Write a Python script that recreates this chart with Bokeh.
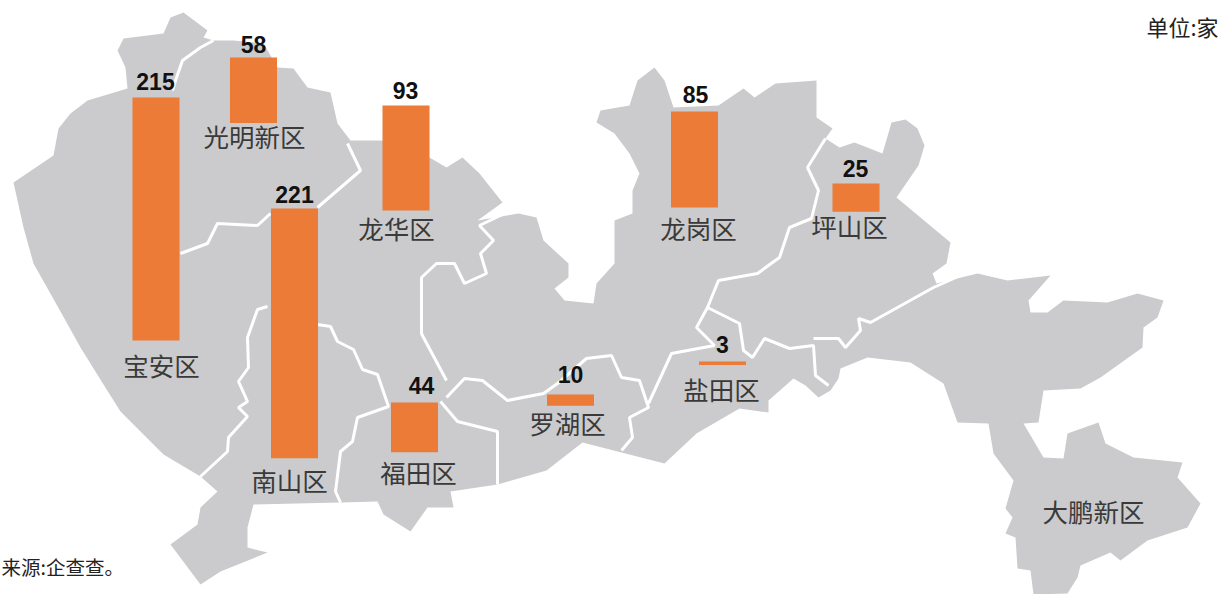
from bokeh.plotting import figure
from bokeh.embed import file_html
from bokeh.resources import INLINE
from bokeh.core.properties import value
from bokeh.models import Range1d

districts = ["宝安区", "光明新区", "龙华区", "南山区", "龙岗区", "坪山区", "福田区", "罗湖区", "盐田区"]
counts = [215, 58, 93, 221, 85, 25, 44, 10, 3]
count_labels = [str(c) for c in counts]
extra_district = ["大鹏新区"]

bar_x = [155.5, 253, 405.5, 294, 694, 855.5, 414, 570, 722]
bar_top = [97, 57, 105, 208, 111, 183, 402, 394, 361]
num_x = [155, 253, 405, 294, 695, 855, 421, 570, 722]
num_y = [81, 44, 90, 194, 94, 168, 385, 374, 344]
lab_x = [161, 254, 396, 289, 698, 849, 418, 567, 721, 1093]
lab_y = [364, 135, 227, 479, 227, 225, 471, 422, 388, 510]

outline_x = [183,207,203,213,233,263,277,293,307,330,337,350,383,429,446,462,479,502,477,
  518,536,543,568,568,554,564,593,596,614,614,632,632,639,629,614,596,600,629,637,654,664,673,718,743,754,775,816,816,832,825,
  839,854,882,891,905,917,924,918,896,950,946,932,936,977,1007,1050,1028,1030,1047,1063,1107,1137,1163,1157,1143,1142,1100,1080,1043,1038,1023,
  1043,1063,1067,1098,1105,1133,1182,1177,1200,1187,1147,1120,1110,1080,1077,1067,1033,1030,1017,1015,1005,1012,1005,1013,993,988,957,943,910,867,840,838,
  830,818,805,793,768,768,739,696,664,621,582,546,497,450,453,427,410,383,377,340,253,247,247,267,220,200,170,197,200,217,200,163,120,103,80,60,33,23,13,53,58,70,87,127,125,117,123,163,170]
outline_y = [12,30,37,40,40,43,67,68,87,92,123,140,140,157,167,157,173,202,220,
  213,217,240,263,277,288,300,303,283,263,220,213,190,173,153,133,122,110,105,80,67,80,107,105,88,97,83,80,117,128,138,
  147,142,153,122,119,128,145,165,197,242,263,273,283,273,280,275,300,312,312,300,302,293,300,317,327,347,377,388,390,422,423,
  457,458,433,422,443,457,462,477,503,527,540,560,552,565,577,593,594,570,568,537,533,517,508,480,453,423,422,383,362,357,368,378,
  390,397,385,378,400,412,408,433,463,452,442,470,484,491,507,507,531,514,501,502,504,527,547,552,571,584,544,524,507,491,476,454,411,384,347,311,263,227,182,155,128,113,100,88,67,50,38,33,17]

border_xs = [
  [213,200,182,175,172],
  [180,207,217,257,270],
  [317,360,347],
  [267,257,247,248,238,247,238,247,228,227,200],
  [317,330,337,353,362,377,388,357,352,340,335,340],
  [504,479,493,480,486,464,454,436,421,421,423,446],
  [440,457,497,497],
  [446,464,482,507,543,557,586,611,621,639,648,629,632,621],
  [648,671,714,696,707,739,743,752,764,789,813,815,828],
  [813,838,845,860,858,870,933,960],
  [707,718,757,779,789,811,818,807,825],
]
border_ys = [
  [40,47,60,80,90],
  [253,243,223,225,213],
  [207,170,143],
  [306,309,337,367,381,401,407,416,437,451,476],
  [324,326,341,349,369,374,406,417,441,451,491,502],
  [213,225,240,253,273,283,263,263,277,333,337,380],
  [401,421,431,484],
  [397,378,380,400,393,383,358,355,377,380,407,417,437,450],
  [403,353,345,327,307,323,350,357,338,348,345,375,385],
  [338,338,347,330,318,322,287,275],
  [307,280,273,257,227,218,190,167,138],
]

scale = 1.13
bar_bottom = [t + c * scale for t, c in zip(bar_top, counts)]

p = figure(width=1218, height=594, output_backend="svg", toolbar_location=None,
           x_range=Range1d(0, 1218), y_range=Range1d(594, 0),
           margin=(0, 0, 0, 0), min_border=0)
p.axis.visible = False
p.grid.visible = False
p.outline_line_color = None
p.background_fill_color = "#FFFFFF"

p.patch(outline_x, outline_y, fill_color="#CBCBCD", line_color=None)
p.multi_line(border_xs, border_ys, line_color="#FFFFFF", line_width=3)
p.vbar(x=bar_x, width=47, top=bar_top, bottom=bar_bottom, fill_color="#EB7B37", line_color=None)

cjk = value("Noto Sans CJK SC")
p.text(x=num_x, y=num_y, text=count_labels, text_font=value("Liberation Sans"), text_font_style="bold",
       text_font_size="23px", text_color="#111111", text_align="center", text_baseline="middle")
p.text(x=lab_x, y=lab_y, text=districts + extra_district, text_font=cjk, text_font_size="25.5px",
       text_color="#3A3A3A", text_align="center", text_baseline="middle")
p.text(x=[1218], y=[25], text=["单位:家"], text_font=cjk, text_font_size="22px",
       text_color="#222222", text_align="right", text_baseline="middle")
p.text(x=[1], y=[566], text=["来源:企查查。"], text_font=cjk, text_font_size="19.5px",
       text_color="#222222", text_align="left", text_baseline="middle")

open("out.html", "w").write(file_html(p, INLINE))
